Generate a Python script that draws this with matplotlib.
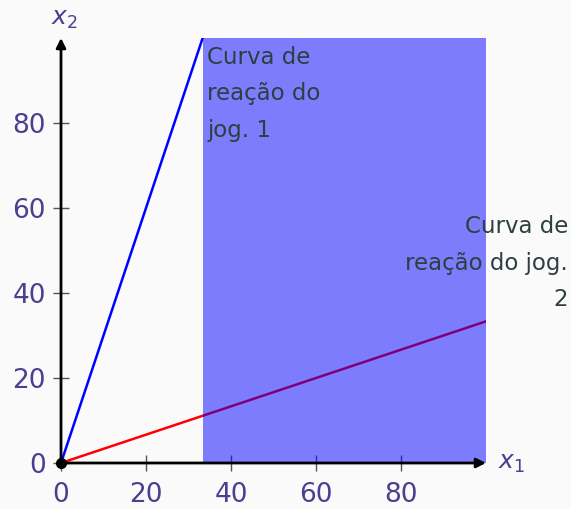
import matplotlib.pyplot as plt
import numpy as np

# reaction curves (both through the origin)
x_jog1 = [0, 100 / 3]
y_jog1 = [0, 100]
x_jog2 = [0, 100]
y_jog2 = [0, 100 / 3]
# shaded region
region_x = [100 / 3, 100]
region_y = [0, 100]
ticks = [0, 20, 40, 60, 80]

plt.rcParams['font.family'] = ['DejaVu Sans']
plt.rcParams['mathtext.fontset'] = 'dejavusans'

bg = '#fafafa'
tick_col = '#4b3f8f'
txt_col = '#2f3e3e'

fig = plt.figure(figsize=(5.71, 5.09), dpi=100, facecolor=bg)
ax = fig.add_axes([61 / 571, 46 / 509, 425 / 571, 425 / 509])
ax.set_facecolor(bg)
ax.set_xlim(0, 100)
ax.set_ylim(0, 100)
for s in ax.spines.values():
    s.set_visible(False)

# lines
ax.plot(x_jog1, y_jog1, color='blue', lw=1.8, zorder=2)
ax.plot(x_jog2, y_jog2, color='red', lw=1.8, zorder=2)

# shaded area on top (alpha turns the red line purple)
ax.fill_between(region_x, region_y[0], region_y[1], color='blue', alpha=0.5,
                lw=0, zorder=3)

# axes with arrows
for tip in [(100, 0), (0, 100)]:
    ax.annotate('', xy=tip, xytext=(0, 0),
                arrowprops=dict(arrowstyle='-|>', color='black', lw=2,
                                mutation_scale=14, shrinkA=0, shrinkB=0),
                zorder=5, annotation_clip=False)
ax.plot([0], [0], 'o', color='black', ms=7, zorder=6, clip_on=False)

# ticks crossing the axes
ax.set_xticks(ticks)
ax.set_yticks(ticks)
ax.tick_params(direction='inout', length=12, width=1, color='#555555',
               labelsize=19, labelcolor=tick_col)
ax.tick_params(axis='x', pad=8)
ax.tick_params(axis='y', pad=5)

ax.text(102.8, 0, r'$x_1$', color=tick_col, fontsize=18, va='center',
        ha='left', clip_on=False)
ax.text(0.8, 104.5, r'$x_2$', color=tick_col, fontsize=18, va='center',
        ha='center', clip_on=False)

# annotations
ax.text(34.4, 98.2, 'Curva de\nreação do\njog. 1', color=txt_col,
        fontsize=16.5, va='top', ha='left', linespacing=1.75, zorder=7)
ax.text(119.3, 58.3, 'Curva de\nreação do jog.\n2', color=txt_col,
        fontsize=16.5, va='top', ha='right', linespacing=1.75, zorder=7,
        clip_on=False)

fig.savefig('out.png', dpi=100, facecolor=bg)
